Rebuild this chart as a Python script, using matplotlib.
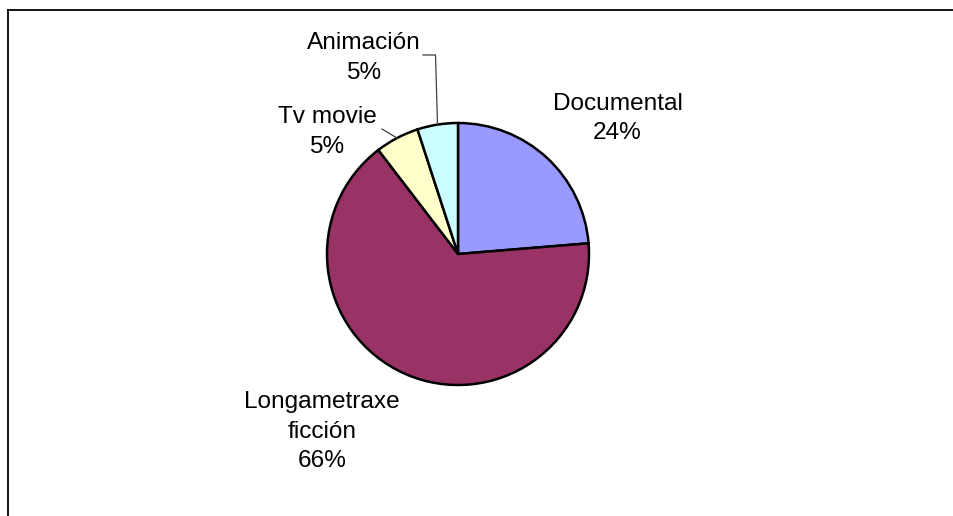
import numpy as np
import matplotlib
matplotlib.use("Agg")
import matplotlib.pyplot as plt
from matplotlib.lines import Line2D

plt.rcParams["font.family"] = ["Liberation Sans", "DejaVu Sans"]

categories = ["Documental", "Longametraxe\nficción", "Tv movie", "Animación"]
values = [23.7, 65.9, 5.4, 5.0]
colors = ["#9999FF", "#993366", "#FFFFCC", "#CCFFFF"]

W, H = 954, 516


def py(y):
    # pixel row (top-down) -> axes y (bottom-up)
    return H - y


fig = plt.figure(figsize=(W / 100, H / 100), dpi=100)
ax = fig.add_axes([0, 0, 1, 1])

center = (458, py(254))
radius = 131
wedges, _ = ax.pie(
    values,
    colors=colors,
    startangle=90,
    counterclock=False,
    center=center,
    radius=radius,
    wedgeprops=dict(edgecolor="black", linewidth=1.8),
)
ax.set_xlim(0, W)
ax.set_ylim(0, H)
ax.set_aspect("equal")
ax.axis("off")

total = sum(values)
labels = [f"{c}\n{round(v / total * 100)}%" for c, v in zip(categories, values)]

# label anchor: centre x, baseline of last line (pixel rows)
label_pos = [(617.5, 139.3), (322, 467), (327, 152.7), (363.5, 78.5)]
for lab, (x, y) in zip(labels, label_pos):
    ax.text(x, py(y), lab, ha="center", va="baseline", fontsize=17.6,
            linespacing=1.43, color="black")


def edge_point(w):
    ang = np.deg2rad((w.theta1 + w.theta2) / 2)
    return center[0] + radius * np.cos(ang), center[1] + radius * np.sin(ang)


# leader lines for the small slices
x0, y0 = edge_point(wedges[3])
ax.plot([x0, x0 - 2, 423], [y0, py(55), py(55)], color="#404040", lw=0.9)
x1, y1 = edge_point(wedges[2])
ax.plot([x1, 382], [y1, py(129)], color="#404040", lw=0.9)

# chart frame (only top and left visible)
fig.add_artist(Line2D([8 / W, 1], [1 - 9.8 / H, 1 - 9.8 / H], color="black", lw=1.3))
fig.add_artist(Line2D([8 / W, 8 / W], [0, 1 - 9.8 / H], color="black", lw=1.3))

fig.savefig("out.png", dpi=100)
